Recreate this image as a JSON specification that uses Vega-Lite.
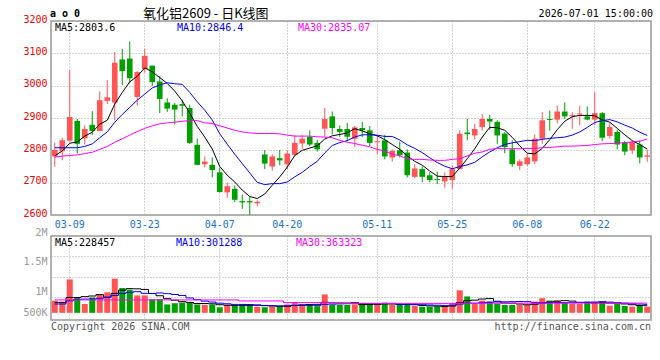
{
  "$schema": "https://vega.github.io/schema/vega-lite/v6.json",
  "background": "white",
  "padding": {"left": 22, "top": 7, "right": 8, "bottom": 4},
  "spacing": 21,
  "bounds": "flush",
  "config": {
    "view": {"stroke": "#999999", "strokeWidth": 1.5},
    "axis": {"domain": false, "ticks": false, "gridColor": "#aaaaaa", "gridDash": [1, 2], "gridWidth": 1, "labelFont": "DejaVu Sans Mono", "labelFontSize": 10, "labelPadding": 4, "labelOverlap": false},
    "text": {"font": "DejaVu Sans Mono", "fontSize": 10},
    "line": {"strokeWidth": 1}
  },
  "data": {"values": [
    {"d":"2026-03-05","o":2781,"h":2823,"l":2749,"c":2801,"m5":2783,"m10":2808,"m30":2779,"v":420000,"v5":375000,"v10":340000,"v30":440000},
    {"d":"2026-03-06","o":2797,"h":2839,"l":2769,"c":2831,"m5":2798,"m10":2808,"m30":2782,"v":400000,"v5":375000,"v10":340000,"v30":440000},
    {"d":"2026-03-09","o":2830,"h":3048,"l":2826,"c":2903,"m5":2822,"m10":2808,"m30":2784,"v":940000,"v5":500000,"v10":420000,"v30":440000},
    {"d":"2026-03-10","o":2891,"h":2897,"l":2790,"c":2820,"m5":2826,"m10":2808,"m30":2786,"v":500000,"v5":500000,"v10":450000,"v30":440000},
    {"d":"2026-03-11","o":2837,"h":2877,"l":2818,"c":2866,"m5":2844,"m10":2812,"m30":2790,"v":340000,"v5":520000,"v10":460000,"v30":440000},
    {"d":"2026-03-12","o":2879,"h":2921,"l":2847,"c":2860,"m5":2856,"m10":2820,"m30":2794,"v":500000,"v5":536000,"v10":460000,"v30":440000},
    {"d":"2026-03-13","o":2860,"h":2982,"l":2860,"c":2955,"m5":2881,"m10":2839,"m30":2803,"v":570000,"v5":570000,"v10":480000,"v30":440000},
    {"d":"2026-03-16","o":2953,"h":3017,"l":2943,"c":2964,"m5":2893,"m10":2857,"m30":2812,"v":625000,"v5":507000,"v10":500000,"v30":440000},
    {"d":"2026-03-17","o":2948,"h":3104,"l":2893,"c":3071,"m5":2943,"m10":2887,"m30":2825,"v":960000,"v5":599000,"v10":550000,"v30":440000},
    {"d":"2026-03-18","o":3081,"h":3114,"l":3002,"c":3045,"m5":2979,"m10":2911,"m30":2836,"v":730000,"v5":677000,"v10":599000,"v30":440000},
    {"d":"2026-03-19","o":3084,"h":3137,"l":3007,"c":3023,"m5":3012,"m10":2933,"m30":2847,"v":690000,"v5":715000,"v10":626000,"v30":440000},
    {"d":"2026-03-20","o":2965,"h":3045,"l":2938,"c":3042,"m5":3029,"m10":2955,"m30":2858,"v":550000,"v5":711000,"v10":641000,"v30":440000},
    {"d":"2026-03-23","o":3051,"h":3114,"l":3041,"c":3092,"m5":3055,"m10":2974,"m30":2868,"v":550000,"v5":696000,"v10":602000,"v30":440000},
    {"d":"2026-03-24","o":3062,"h":3062,"l":2999,"c":3011,"m5":3043,"m10":2993,"m30":2876,"v":460000,"v5":596000,"v10":598000,"v30":440000},
    {"d":"2026-03-25","o":3013,"h":3030,"l":2915,"c":2959,"m5":3025,"m10":3002,"m30":2882,"v":460000,"v5":542000,"v10":610000,"v30":440000},
    {"d":"2026-03-26","o":2948,"h":2961,"l":2919,"c":2929,"m5":3007,"m10":3009,"m30":2885,"v":330000,"v5":470000,"v10":593000,"v30":440000},
    {"d":"2026-03-27","o":2941,"h":2946,"l":2880,"c":2926,"m5":2983,"m10":3006,"m30":2887,"v":360000,"v5":432000,"v10":572000,"v30":440000},
    {"d":"2026-03-30","o":2943,"h":2956,"l":2905,"c":2938,"m5":2953,"m10":3004,"m30":2890,"v":375000,"v5":397000,"v10":547000,"v30":440000},
    {"d":"2026-03-31","o":2931,"h":2941,"l":2820,"c":2823,"m5":2915,"m10":2979,"m30":2892,"v":375000,"v5":380000,"v10":488000,"v30":440000},
    {"d":"2026-04-01","o":2817,"h":2836,"l":2754,"c":2755,"m5":2874,"m10":2950,"m30":2892,"v":330000,"v5":354000,"v10":448000,"v30":440000},
    {"d":"2026-04-02","o":2757,"h":2781,"l":2747,"c":2765,"m5":2841,"m10":2924,"m30":2885,"v":320000,"v5":352000,"v10":411000,"v30":440000},
    {"d":"2026-04-03","o":2755,"h":2778,"l":2716,"c":2739,"m5":2804,"m10":2894,"m30":2883,"v":330000,"v5":346000,"v10":389000,"v30":440000},
    {"d":"2026-04-07","o":2732,"h":2747,"l":2670,"c":2671,"m5":2750,"m10":2851,"m30":2876,"v":260000,"v5":323000,"v10":360000,"v30":440000},
    {"d":"2026-04-08","o":2670,"h":2701,"l":2653,"c":2689,"m5":2723,"m10":2819,"m30":2869,"v":320000,"v5":312000,"v10":346000,"v30":440000},
    {"d":"2026-04-09","o":2681,"h":2691,"l":2640,"c":2647,"m5":2702,"m10":2788,"m30":2862,"v":310000,"v5":308000,"v10":331000,"v30":440000},
    {"d":"2026-04-10","o":2643,"h":2663,"l":2619,"c":2639,"m5":2677,"m10":2759,"m30":2857,"v":320000,"v5":308000,"v10":330000,"v30":415000},
    {"d":"2026-04-13","o":2643,"h":2655,"l":2600,"c":2639,"m5":2657,"m10":2730,"m30":2854,"v":330000,"v5":308000,"v10":327000,"v30":415000},
    {"d":"2026-04-14","o":2636,"h":2645,"l":2627,"c":2641,"m5":2651,"m10":2701,"m30":2852,"v":275000,"v5":311000,"v10":317000,"v30":415000},
    {"d":"2026-04-15","o":2787,"h":2801,"l":2742,"c":2759,"m5":2665,"m10":2694,"m30":2852,"v":260000,"v5":299000,"v10":306000,"v30":415000},
    {"d":"2026-04-16","o":2750,"h":2788,"l":2737,"c":2781,"m5":2692,"m10":2697,"m30":2852,"v":275000,"v5":292000,"v10":300000,"v30":415000},
    {"d":"2026-04-17","o":2776,"h":2801,"l":2754,"c":2769,"m5":2718,"m10":2697,"m30":2851,"v":275000,"v5":283000,"v10":296000,"v30":415000},
    {"d":"2026-04-20","o":2757,"h":2800,"l":2742,"c":2790,"m5":2748,"m10":2702,"m30":2847,"v":330000,"v5":283000,"v10":296000,"v30":375000},
    {"d":"2026-04-21","o":2786,"h":2847,"l":2783,"c":2823,"m5":2784,"m10":2718,"m30":2844,"v":380000,"v5":304000,"v10":308000,"v30":375000},
    {"d":"2026-04-22","o":2821,"h":2847,"l":2805,"c":2836,"m5":2800,"m10":2732,"m30":2844,"v":330000,"v5":318000,"v10":309000,"v30":375000},
    {"d":"2026-04-23","o":2842,"h":2862,"l":2813,"c":2818,"m5":2807,"m10":2750,"m30":2844,"v":330000,"v5":329000,"v10":311000,"v30":375000},
    {"d":"2026-04-24","o":2823,"h":2832,"l":2796,"c":2803,"m5":2814,"m10":2766,"m30":2842,"v":290000,"v5":332000,"v10":308000,"v30":375000},
    {"d":"2026-04-27","o":2867,"h":2931,"l":2842,"c":2897,"m5":2835,"m10":2792,"m30":2841,"v":575000,"v5":381000,"v10":332000,"v30":375000},
    {"d":"2026-04-28","o":2905,"h":2920,"l":2849,"c":2869,"m5":2845,"m10":2815,"m30":2839,"v":320000,"v5":369000,"v10":337000,"v30":375000},
    {"d":"2026-04-29","o":2866,"h":2877,"l":2842,"c":2857,"m5":2849,"m10":2824,"m30":2831,"v":317000,"v5":366000,"v10":342000,"v30":355000},
    {"d":"2026-04-30","o":2866,"h":2885,"l":2829,"c":2842,"m5":2854,"m10":2830,"m30":2825,"v":317000,"v5":364000,"v10":347000,"v30":355000},
    {"d":"2026-05-06","o":2836,"h":2875,"l":2810,"c":2871,"m5":2867,"m10":2841,"m30":2821,"v":333000,"v5":372000,"v10":352000,"v30":355000},
    {"d":"2026-05-07","o":2869,"h":2888,"l":2841,"c":2862,"m5":2860,"m10":2848,"m30":2816,"v":342000,"v5":326000,"v10":354000,"v30":355000},
    {"d":"2026-05-08","o":2862,"h":2875,"l":2813,"c":2823,"m5":2851,"m10":2848,"m30":2811,"v":342000,"v5":330000,"v10":350000,"v30":355000},
    {"d":"2026-05-11","o":2825,"h":2847,"l":2788,"c":2828,"m5":2845,"m10":2847,"m30":2803,"v":317000,"v5":330000,"v10":348000,"v30":355000},
    {"d":"2026-05-12","o":2831,"h":2848,"l":2772,"c":2781,"m5":2833,"m10":2843,"m30":2798,"v":375000,"v5":342000,"v10":353000,"v30":355000},
    {"d":"2026-05-13","o":2778,"h":2803,"l":2765,"c":2798,"m5":2818,"m10":2843,"m30":2788,"v":317000,"v5":339000,"v10":356000,"v30":355000},
    {"d":"2026-05-14","o":2800,"h":2827,"l":2778,"c":2785,"m5":2803,"m10":2832,"m30":2783,"v":317000,"v5":334000,"v10":330000,"v30":355000},
    {"d":"2026-05-15","o":2793,"h":2803,"l":2716,"c":2723,"m5":2783,"m10":2817,"m30":2774,"v":317000,"v5":329000,"v10":330000,"v30":355000},
    {"d":"2026-05-18","o":2718,"h":2757,"l":2714,"c":2744,"m5":2766,"m10":2806,"m30":2772,"v":292000,"v5":324000,"v10":327000,"v30":355000},
    {"d":"2026-05-19","o":2742,"h":2750,"l":2701,"c":2718,"m5":2754,"m10":2793,"m30":2772,"v":275000,"v5":304000,"v10":323000,"v30":355000},
    {"d":"2026-05-20","o":2723,"h":2732,"l":2701,"c":2708,"m5":2736,"m10":2777,"m30":2770,"v":275000,"v5":295000,"v10":317000,"v30":355000},
    {"d":"2026-05-21","o":2711,"h":2734,"l":2696,"c":2708,"m5":2720,"m10":2762,"m30":2769,"v":275000,"v5":287000,"v10":311000,"v30":355000},
    {"d":"2026-05-22","o":2704,"h":2732,"l":2684,"c":2718,"m5":2719,"m10":2751,"m30":2769,"v":292000,"v5":282000,"v10":306000,"v30":355000},
    {"d":"2026-05-25","o":2708,"h":2754,"l":2681,"c":2742,"m5":2719,"m10":2743,"m30":2772,"v":342000,"v5":292000,"v10":308000,"v30":355000},
    {"d":"2026-05-26","o":2742,"h":2862,"l":2742,"c":2851,"m5":2745,"m10":2750,"m30":2774,"v":675000,"v5":372000,"v10":338000,"v30":355000},
    {"d":"2026-05-27","o":2855,"h":2897,"l":2831,"c":2850,"m5":2774,"m10":2755,"m30":2783,"v":525000,"v5":422000,"v10":359000,"v30":358000},
    {"d":"2026-05-28","o":2846,"h":2882,"l":2834,"c":2866,"m5":2805,"m10":2763,"m30":2791,"v":342000,"v5":435000,"v10":361000,"v30":358000},
    {"d":"2026-05-29","o":2872,"h":2912,"l":2861,"c":2897,"m5":2841,"m10":2780,"m30":2795,"v":425000,"v5":462000,"v10":372000,"v30":358000},
    {"d":"2026-06-01","o":2897,"h":2910,"l":2864,"c":2889,"m5":2871,"m10":2795,"m30":2803,"v":400000,"v5":473000,"v10":383000,"v30":358000},
    {"d":"2026-06-02","o":2888,"h":2893,"l":2820,"c":2846,"m5":2870,"m10":2808,"m30":2806,"v":342000,"v5":407000,"v10":390000,"v30":358000},
    {"d":"2026-06-03","o":2852,"h":2856,"l":2791,"c":2810,"m5":2862,"m10":2818,"m30":2805,"v":317000,"v5":365000,"v10":394000,"v30":360000},
    {"d":"2026-06-04","o":2803,"h":2831,"l":2749,"c":2757,"m5":2840,"m10":2823,"m30":2805,"v":317000,"v5":360000,"v10":398000,"v30":360000},
    {"d":"2026-06-05","o":2752,"h":2772,"l":2739,"c":2766,"m5":2814,"m10":2827,"m30":2805,"v":317000,"v5":339000,"v10":401000,"v30":360000},
    {"d":"2026-06-08","o":2757,"h":2791,"l":2752,"c":2778,"m5":2791,"m10":2831,"m30":2806,"v":317000,"v5":322000,"v10":398000,"v30":360000},
    {"d":"2026-06-09","o":2766,"h":2849,"l":2757,"c":2836,"m5":2789,"m10":2830,"m30":2806,"v":400000,"v5":334000,"v10":371000,"v30":360000},
    {"d":"2026-06-10","o":2836,"h":2918,"l":2820,"c":2893,"m5":2806,"m10":2834,"m30":2808,"v":483000,"v5":367000,"v10":366000,"v30":360000},
    {"d":"2026-06-11","o":2897,"h":2923,"l":2861,"c":2894,"m5":2833,"m10":2837,"m30":2809,"v":425000,"v5":388000,"v10":374000,"v30":360000},
    {"d":"2026-06-12","o":2895,"h":2938,"l":2883,"c":2920,"m5":2864,"m10":2839,"m30":2811,"v":425000,"v5":410000,"v10":375000,"v30":360000},
    {"d":"2026-06-15","o":2920,"h":2948,"l":2897,"c":2905,"m5":2890,"m10":2841,"m30":2813,"v":375000,"v5":422000,"v10":372000,"v30":362000},
    {"d":"2026-06-16","o":2906,"h":2918,"l":2867,"c":2909,"m5":2904,"m10":2847,"m30":2813,"v":342000,"v5":410000,"v10":372000,"v30":362000},
    {"d":"2026-06-17","o":2911,"h":2938,"l":2878,"c":2914,"m5":2908,"m10":2857,"m30":2814,"v":342000,"v5":382000,"v10":375000,"v30":362000},
    {"d":"2026-06-18","o":2905,"h":2936,"l":2893,"c":2895,"m5":2908,"m10":2871,"m30":2815,"v":400000,"v5":377000,"v10":383000,"v30":362000},
    {"d":"2026-06-22","o":2895,"h":2980,"l":2878,"c":2915,"m5":2907,"m10":2886,"m30":2818,"v":375000,"v5":367000,"v10":389000,"v30":362000},
    {"d":"2026-06-23","o":2915,"h":2918,"l":2829,"c":2839,"m5":2894,"m10":2892,"m30":2820,"v":400000,"v5":372000,"v10":397000,"v30":362000},
    {"d":"2026-06-24","o":2844,"h":2885,"l":2836,"c":2872,"m5":2887,"m10":2895,"m30":2821,"v":300000,"v5":363000,"v10":387000,"v30":363000},
    {"d":"2026-06-25","o":2857,"h":2864,"l":2803,"c":2818,"m5":2868,"m10":2888,"m30":2822,"v":342000,"v5":363000,"v10":373000,"v30":363000},
    {"d":"2026-06-26","o":2823,"h":2829,"l":2785,"c":2796,"m5":2848,"m10":2878,"m30":2824,"v":292000,"v5":342000,"v10":360000,"v30":363000},
    {"d":"2026-06-29","o":2800,"h":2829,"l":2788,"c":2826,"m5":2830,"m10":2869,"m30":2826,"v":275000,"v5":322000,"v10":345000,"v30":363000},
    {"d":"2026-06-30","o":2818,"h":2831,"l":2759,"c":2778,"m5":2818,"m10":2856,"m30":2828,"v":317000,"v5":305000,"v10":339000,"v30":363000},
    {"d":"2026-07-01","o":2780,"h":2801,"l":2765,"c":2784,"m5":2804,"m10":2846,"m30":2835,"v":275000,"v5":300000,"v10":332000,"v30":363000}
  ]},
  "vconcat": [
    {
      "width": 600,
      "height": 194,
      "encoding": {
        "x": {"field": "d", "type": "ordinal", "title": null,
          "scale": {"paddingInner": 0, "paddingOuter": 0},
          "axis": {"values": ["2026-03-09","2026-03-23","2026-04-07","2026-04-20","2026-05-11","2026-05-25","2026-06-08","2026-06-22"],
            "labelExpr": "slice(datum.value, 5)", "labelColor": "#1a73c9", "labelAngle": 0, "labelOverlap": false, "grid": true, "title": null}}
      },
      "layer": [
        {
          "mark": {"type": "rule", "strokeWidth": 1},
          "encoding": {
            "y": {"field": "l", "type": "quantitative", "title": null,
              "scale": {"domain": [2600, 3200], "nice": false, "zero": false},
              "axis": {"values": [2600,2700,2800,2900,3000,3100,3200], "tickCount": 20, "format": "d", "labelColor": "#ee0000", "labelBaseline": "middle", "labelOffset": -2, "labelOverlap": false, "grid": true, "title": null}},
            "y2": {"field": "h"},
            "color": {"condition": {"test": "datum.c >= datum.o", "value": "#ff5555"}, "value": "#00a000"}
          }
        },
        {
          "mark": {"type": "bar", "width": {"band": 0.75}},
          "encoding": {
            "y": {"field": "o", "type": "quantitative", "title": null},
            "y2": {"field": "c"},
            "color": {"condition": {"test": "datum.c >= datum.o", "value": "#ff5555"}, "value": "#00a000"}
          }
        },
        {"mark": {"type": "line", "color": "#000000"}, "encoding": {"y": {"field": "m5", "type": "quantitative", "title": null}}},
        {"mark": {"type": "line", "color": "#0000ff"}, "encoding": {"y": {"field": "m10", "type": "quantitative", "title": null}}},
        {"mark": {"type": "line", "color": "#ff00ff"}, "encoding": {"y": {"field": "m30", "type": "quantitative", "title": null}}},
        {
          "data": {"values": [{}]},
          "mark": {"type": "text", "text": "MA5:2803.6", "align": "left", "baseline": "top", "dx": 4, "dy": 2, "color": "#000000"},
          "encoding": {"x": {"datum": "2026-03-05", "type": "ordinal", "bandPosition": 0}, "y": {"datum": 3200, "type": "quantitative"}}
        },
        {
          "data": {"values": [{}]},
          "mark": {"type": "text", "text": "MA10:2846.4", "align": "left", "baseline": "top", "dx": 6, "dy": 2, "color": "#0000ff"},
          "encoding": {"x": {"datum": "2026-03-27", "type": "ordinal", "bandPosition": 0}, "y": {"datum": 3200, "type": "quantitative"}}
        },
        {
          "data": {"values": [{}]},
          "mark": {"type": "text", "text": "MA30:2835.07", "align": "left", "baseline": "top", "dx": 7, "dy": 2, "color": "#ff00ff"},
          "encoding": {"x": {"datum": "2026-04-21", "type": "ordinal", "bandPosition": 0}, "y": {"datum": 3200, "type": "quantitative"}}
        },
        {
          "data": {"values": [{}]},
          "mark": {"type": "text", "text": "a o 0", "align": "left", "baseline": "alphabetic", "dx": -1, "dy": -4, "fontWeight": "bold", "color": "#000000"},
          "encoding": {"x": {"datum": "2026-03-05", "type": "ordinal", "bandPosition": 0}, "y": {"datum": 3200, "type": "quantitative"}}
        },
        {
          "data": {"values": [{}]},
          "mark": {"type": "text", "text": "氧化铝2609 -  日K线图", "font": "Noto Sans CJK SC", "fontSize": 13, "align": "left", "baseline": "alphabetic", "dx": 2, "dy": -3, "color": "#000000"},
          "encoding": {"x": {"datum": "2026-03-23", "type": "ordinal", "bandPosition": 0}, "y": {"datum": 3200, "type": "quantitative"}}
        },
        {
          "data": {"values": [{}]},
          "mark": {"type": "text", "text": "2026-07-01 15:00:00", "align": "right", "baseline": "alphabetic", "dx": 2, "dy": -4, "color": "#000000"},
          "encoding": {"x": {"datum": "2026-07-01", "type": "ordinal", "bandPosition": 1}, "y": {"datum": 3200, "type": "quantitative"}}
        }
      ]
    },
    {
      "width": 600,
      "height": 84,
      "encoding": {
        "x": {"field": "d", "type": "ordinal", "title": null,
          "scale": {"paddingInner": 0, "paddingOuter": 0},
          "axis": {"values": ["2026-03-09","2026-03-23","2026-04-07","2026-04-20","2026-05-11","2026-05-25","2026-06-08","2026-06-22"],
            "labels": false, "grid": true, "title": null}}
      },
      "layer": [
        {
          "mark": {"type": "bar", "width": {"band": 0.8}},
          "encoding": {
            "y": {"field": "v", "type": "quantitative", "title": null,
              "scale": {"domain": [-50000, 2000000], "nice": false, "zero": false},
              "axis": {"values": [500000, 1000000, 1500000, 2000000], "tickCount": 20,
                "labelExpr": "datum.value >= 1000000 ? (datum.value / 1000000) + 'M' : (datum.value / 1000) + 'K'",
                "labelColor": "#999999", "labelBaseline": "middle", "labelOverlap": false,
                "labelOffset": {"condition": [{"test": "datum.value > 1800000", "value": -4}, {"test": "datum.value > 1200000", "value": 5}], "value": 15},
                "gridOpacity": {"condition": {"test": "datum.value > 1800000", "value": 0}, "value": 1},
                "grid": true, "title": null}},
            "y2": {"datum": 125000},
            "color": {"condition": {"test": "datum.c >= datum.o", "value": "#ff5555"}, "value": "#00a000"}
          }
        },
        {"mark": {"type": "line", "color": "#000000", "interpolate": "step"}, "encoding": {"y": {"field": "v5", "type": "quantitative", "title": null}}},
        {"mark": {"type": "line", "color": "#0000ff", "interpolate": "step"}, "encoding": {"y": {"field": "v10", "type": "quantitative", "title": null}}},
        {"mark": {"type": "line", "color": "#ff00ff", "interpolate": "step"}, "encoding": {"y": {"field": "v30", "type": "quantitative", "title": null}}},
        {
          "data": {"values": [{}]},
          "mark": {"type": "text", "text": "MA5:228457", "align": "left", "baseline": "top", "dx": 4, "dy": 2, "color": "#000000"},
          "encoding": {"x": {"datum": "2026-03-05", "type": "ordinal", "bandPosition": 0}, "y": {"datum": 2000000, "type": "quantitative"}}
        },
        {
          "data": {"values": [{}]},
          "mark": {"type": "text", "text": "MA10:301288", "align": "left", "baseline": "top", "dx": 5, "dy": 2, "color": "#0000ff"},
          "encoding": {"x": {"datum": "2026-03-27", "type": "ordinal", "bandPosition": 0}, "y": {"datum": 2000000, "type": "quantitative"}}
        },
        {
          "data": {"values": [{}]},
          "mark": {"type": "text", "text": "MA30:363323", "align": "left", "baseline": "top", "dx": 5, "dy": 2, "color": "#ff00ff"},
          "encoding": {"x": {"datum": "2026-04-21", "type": "ordinal", "bandPosition": 0}, "y": {"datum": 2000000, "type": "quantitative"}}
        },
        {
          "data": {"values": [{}]},
          "mark": {"type": "text", "text": "Copyright 2026 SINA.COM", "align": "left", "baseline": "top", "dx": 0, "dy": 2, "color": "#555555"},
          "encoding": {"x": {"datum": "2026-03-05", "type": "ordinal", "bandPosition": 0}, "y": {"datum": -50000, "type": "quantitative"}}
        },
        {
          "data": {"values": [{}]},
          "mark": {"type": "text", "text": "http://finance.sina.com.cn", "align": "right", "baseline": "top", "dx": 0, "dy": 2, "color": "#555555"},
          "encoding": {"x": {"datum": "2026-07-01", "type": "ordinal", "bandPosition": 1}, "y": {"datum": -50000, "type": "quantitative"}}
        }
      ]
    }
  ]
}
